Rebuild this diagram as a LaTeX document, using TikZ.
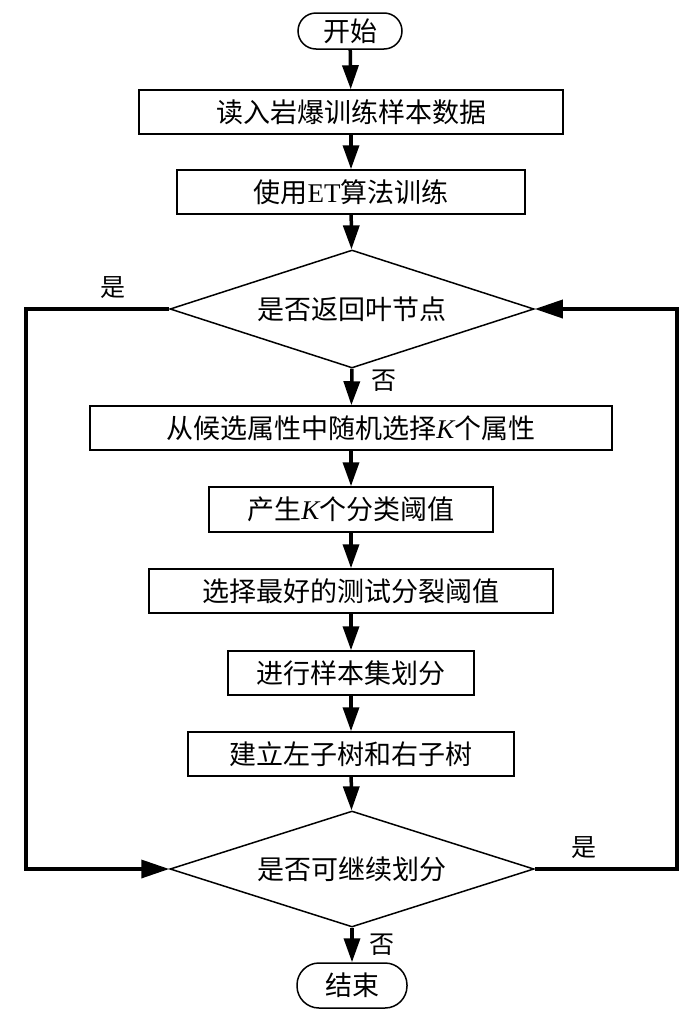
\documentclass[tikz,border=0pt]{standalone}
\usepackage{fontspec}
\setmainfont{Liberation Serif}
\newfontfamily\cjk{Noto Sans CJK SC}
\usetikzlibrary{shapes.geometric,arrows.meta}
\newcommand{\latin}[1]{{\rmfamily #1}}
\newcommand{\ivar}[1]{{\rmfamily\itshape #1}}
\begin{document}
\begin{tikzpicture}[x=1pt,y=-1pt,
  box/.style={draw, line width=1.5pt, rectangle, minimum height=44pt, inner sep=0pt,
    font=\fontsize{27}{30}\selectfont\cjk},
  term/.style={draw, line width=1.5pt, rectangle, rounded corners=18pt, inner sep=0pt,
    font=\fontsize{27}{30}\selectfont\cjk},
  dec/.style={draw, diamond, line width=1.5pt, minimum width=364pt, minimum height=118pt,
    inner sep=0pt, aspect=3.1, font=\fontsize{27}{30}\selectfont\cjk},
  conn/.style={line width=3.5pt, -{Triangle[length=24pt,width=16pt]}},
  loopconn/.style={line width=3.5pt, -{Triangle[length=28pt,width=18pt]}},
  lbl/.style={font=\fontsize{25}{27}\selectfont\cjk}
]
\useasboundingbox (0,0) rectangle (700,1015);
\node[term, minimum width=104pt, minimum height=36pt] (start) at (350,31) {开始};
\node[box, minimum width=424pt] (b1) at (351,112) {读入岩爆训练样本数据};
\node[box, minimum width=348pt] (b2) at (351,192) {使用\latin{ET}算法训练};
\node[dec] (d1) at (352,309) {是否返回叶节点};
\node[box, minimum width=522pt] (b3) at (351,428) {从候选属性中随机选择\ivar{K}个属性};
\node[box, minimum width=284pt, minimum height=45pt] (b4) at (351,509.5) {产生\ivar{K}个分类阈值};
\node[box, minimum width=404pt] (b5) at (351,591) {选择最好的测试分裂阈值};
\node[box, minimum width=246pt] (b6) at (351,673) {进行样本集划分};
\node[box, minimum width=326pt] (b7) at (351,754) {建立左子树和右子树};
\node[dec, minimum height=116pt] (d2) at (352,869) {是否可继续划分};
\node[term, minimum width=110pt, minimum height=45pt, rounded corners=22pt] (end) at (352,985.5) {结束};

\coordinate (lt) at (26,309);
\coordinate (lb) at (26,869);
\coordinate (rt) at (677,309);
\coordinate (rb) at (677,869);

\draw[conn] (start) -- (b1);
\draw[conn] (b1) -- (b2);
\draw[conn] (b2) -- (d1);
\draw[conn] (d1.south) -- (b3);
\draw[conn] (b3) -- (b4);
\draw[conn] (b4) -- (b5);
\draw[conn] (b5) -- (b6);
\draw[conn] (b6) -- (b7);
\draw[conn] (b7) -- (d2);
\draw[conn] (d2.south) -- (end);
\draw[loopconn] (d1.west) -- (lt) -- (lb) -- (d2.west);
\draw[loopconn] (d2.east) -- (rb) -- (rt) -- (d1.east);

\node[lbl] (l1) at (113,288) {是};
\node[lbl] (l2) at (584,848) {是};
\node[lbl] (l3) at (384,381) {否};
\node[lbl] (l4) at (382,945) {否};
\end{tikzpicture}
\end{document}
